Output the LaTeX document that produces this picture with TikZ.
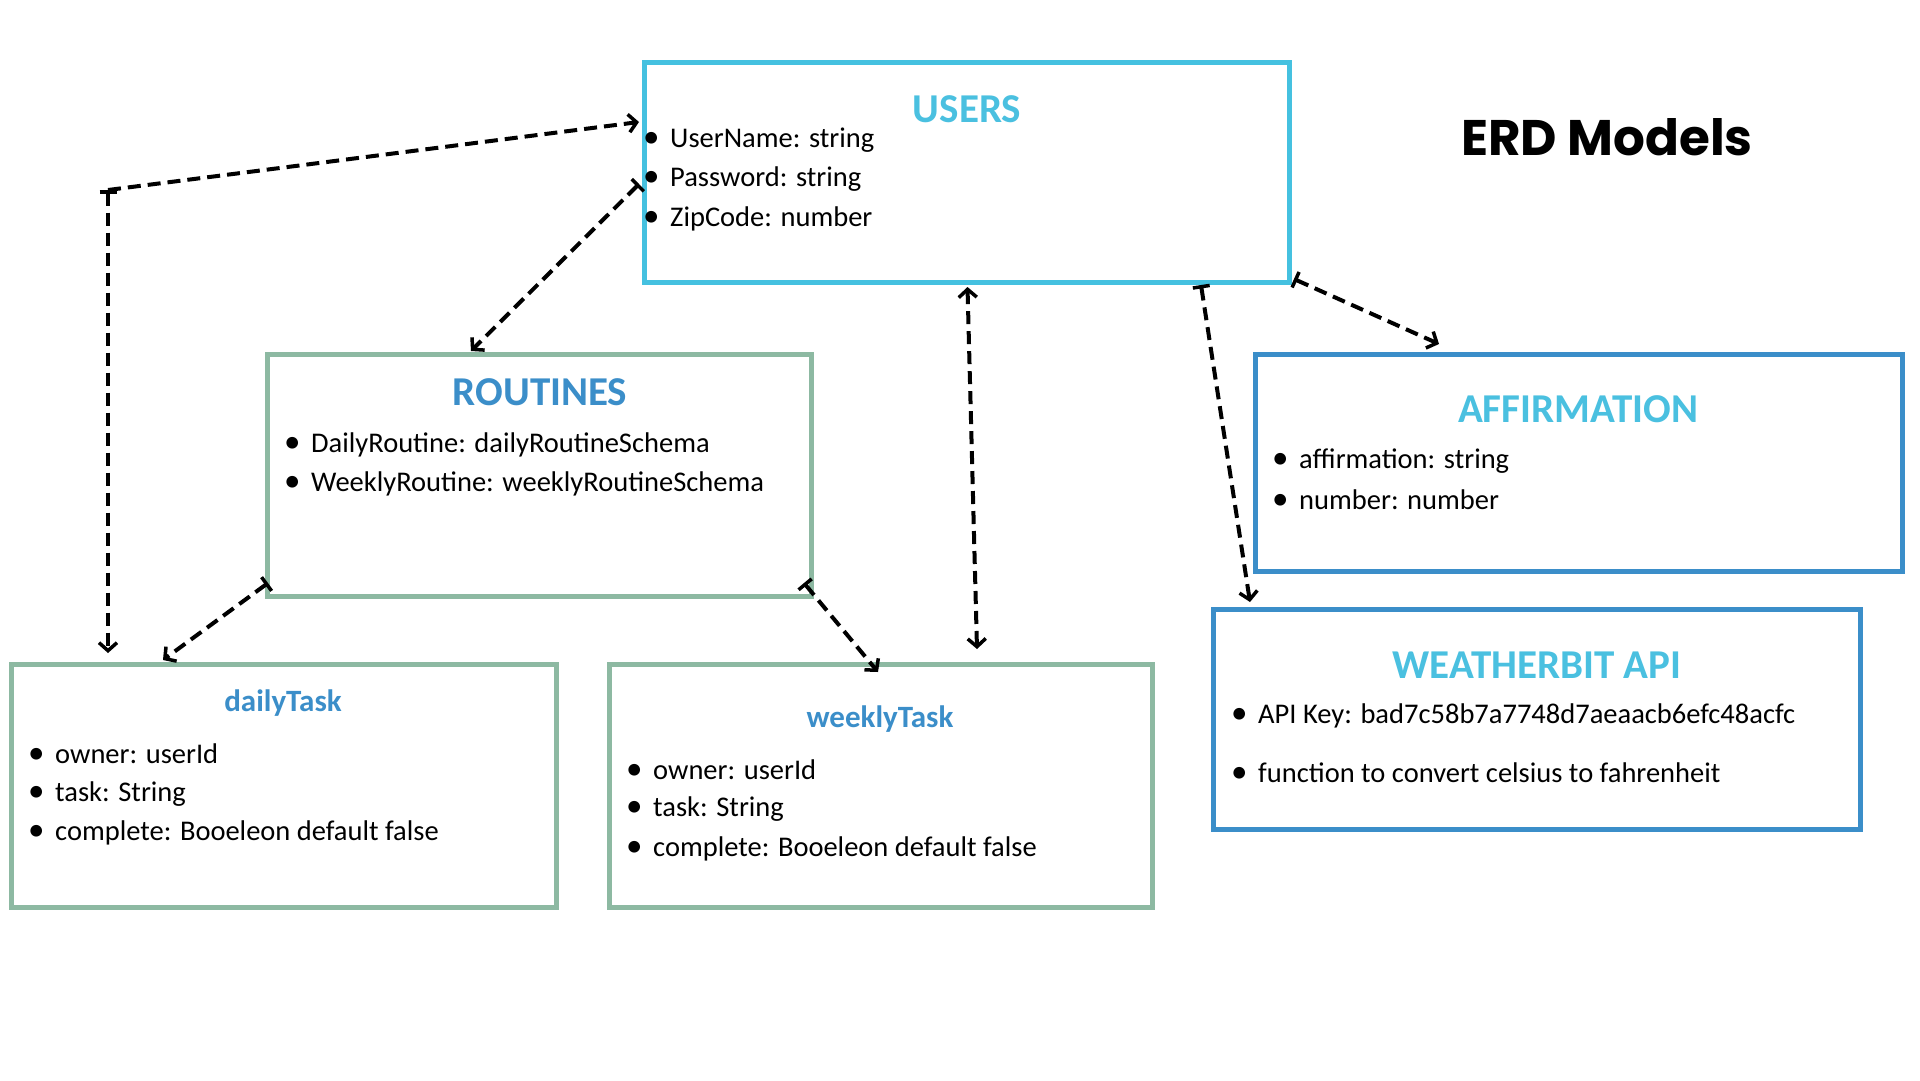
\documentclass[tikz,border=0pt]{standalone}
\usepackage{fontspec}
\setmainfont{Carlito}
\newfontfamily\headfont{Poppins}
\usetikzlibrary{arrows.meta,positioning}

\definecolor{userblue}{HTML}{45C1E0}
\definecolor{sage}{HTML}{8DB9A2}
\definecolor{deepblue}{HTML}{3B8EC9}
\definecolor{skyblue}{HTML}{4AC0E0}

\newcommand{\bul}{\makebox[27pt][l]{\fontsize{33}{33}\selectfont•}}

\begin{document}
\begin{tikzpicture}
    [x=1pt, y=-1pt,
    entity/.style={draw, line width=5pt, outer sep=0pt, inner sep=0pt},
    title/.style={font=\fontsize{41}{45}\selectfont\bfseries},
    subtitle/.style={font=\fontsize{31}{35}\selectfont\bfseries, deepblue},
    field/.style={anchor=west, inner sep=0pt, font=\fontsize{28.5}{32}\selectfont},
    link/.style={line width=4pt, dash pattern=on 13pt off 7pt,
        {Bar[width=17pt,line width=3.5pt]}-{Straight Barb[length=8pt,width=18pt,line width=3.5pt]}},
    plain link/.style={line width=4pt, dash pattern=on 13pt off 7pt,
        -{Straight Barb[length=8pt,width=18pt,line width=3.5pt]}},
    both link/.style={line width=4pt, dash pattern=on 13pt off 7pt,
        {Straight Barb[length=8pt,width=18pt,line width=3.5pt]}-{Straight Barb[length=8pt,width=18pt,line width=3.5pt]}}]

    \useasboundingbox[fill=white] (0,0) rectangle (1920,1080);

    % heading
    \node[font=\headfont\fontsize{50}{55}\selectfont\bfseries] (heading) at (1607,137) {ERD Models};

    % users
    \node[entity, draw=userblue, minimum width=645pt, minimum height=220pt] (users) at (966.5,172) {};
    \node[title, skyblue] (users title) at (967,109) {USERS};
    \node[field] (users 1) at (643,140) {\bul UserName: string};
    \node[field] (users 2) at (643,179) {\bul Password: string};
    \node[field] (users 3) at (643,219) {\bul ZipCode: number};

    % routines
    \node[entity, draw=sage, minimum width=544pt, minimum height=242pt] (routines) at (539,475) {};
    \node[title, deepblue] (routines title) at (540,392) {ROUTINES};
    \node[field] (routines 1) at (284,445) {\bul DailyRoutine: dailyRoutineSchema};
    \node[field] (routines 2) at (284,484) {\bul WeeklyRoutine: weeklyRoutineSchema};

    % affirmation
    \node[entity, draw=deepblue, minimum width=647pt, minimum height=217pt] (affirm) at (1578.5,462.5) {};
    \node[title, skyblue] (affirm title) at (1578,409) {AFFIRMATION};
    \node[field] (affirm 1) at (1272,461) {\bul affirmation: string};
    \node[field] (affirm 2) at (1272,500) {\bul number: number};

    % weatherbit
    \node[entity, draw=deepblue, minimum width=647pt, minimum height=220pt] (weather) at (1536.5,719) {};
    \node[title, skyblue] (weather title) at (1537,665) {WEATHERBIT API};
    \node[field] (weather 1) at (1231,716) {\bul API Key: bad7c58b7a7748d7aeaacb6efc48acfc};
    \node[field] (weather 2) at (1231,773) {\bul function to convert celsius to fahrenheit};

    % daily task
    \node[entity, draw=sage, minimum width=545pt, minimum height=243pt] (daily) at (283.5,785.5) {};
    \node[subtitle] (daily title) at (283,703) {dailyTask};
    \node[field] (daily 1) at (28,754) {\bul owner: userId};
    \node[field] (daily 2) at (28,794) {\bul task: String};
    \node[field] (daily 3) at (28,833) {\bul complete: Booeleon default false};

    % weekly task
    \node[entity, draw=sage, minimum width=543pt, minimum height=243pt] (weekly) at (880.5,785.5) {};
    \node[subtitle] (weekly title) at (880,719) {weeklyTask};
    \node[field] (weekly 1) at (626,770) {\bul owner: userId};
    \node[field] (weekly 2) at (626,809) {\bul task: String};
    \node[field] (weekly 3) at (626,849) {\bul complete: Booeleon default false};

    % relations
    \coordinate (corner) at (108,190);
    \draw[plain link] (corner) -- ([xshift=-5pt,yshift=-60pt]users.north west);
    \draw[link] (corner) -- ([xshift=97pt,yshift=11pt]daily.north west);
    \draw[link] ([xshift=-5pt,yshift=-122pt]users.north west) -- ([xshift=204pt,yshift=3pt]routines.north west);
    \draw[both link] ([xshift=1pt,yshift=-5pt]users.south) -- ([xshift=96.5pt,yshift=15pt]weekly.north);
    \draw[link] ([xshift=-88pt,yshift=-3pt]users.south east) -- ([xshift=37pt,yshift=7pt]weather.north west);
    \draw[link] ([xshift=5pt,yshift=3pt]users.south east) -- ([xshift=184pt,yshift=10pt]affirm.north west);
    \draw[link] ([xshift=1pt,yshift=13pt]routines.south west) -- ([xshift=152pt,yshift=4pt]daily.north west);
    \draw[link] ([xshift=-7pt,yshift=13pt]routines.south east) -- ([xshift=269pt,yshift=-8pt]weekly.north west);

\end{tikzpicture}
\end{document}
